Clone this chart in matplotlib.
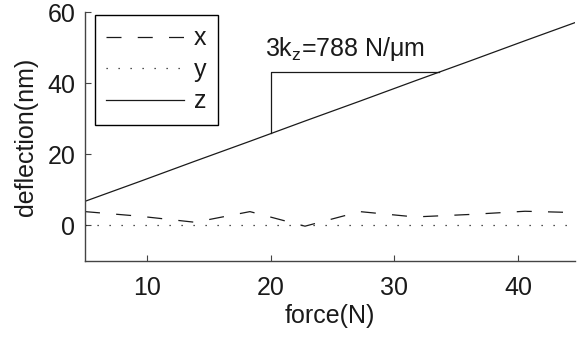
import matplotlib
matplotlib.use("Agg")
import matplotlib.pyplot as plt

plt.rcParams['font.family'] = ['Liberation Sans', 'DejaVu Sans']
plt.rcParams['mathtext.fontset'] = 'custom'
plt.rcParams['mathtext.rm'] = 'Liberation Sans'
plt.rcParams['mathtext.it'] = 'Liberation Sans:italic'

# data
force = [5.0, 9.44, 13.89, 18.33, 22.78, 27.22, 31.67, 36.11, 40.56, 45.0]
dx = [3.9, 2.6, 0.9, 3.9, -0.2, 3.9, 2.4, 3.1, 4.0, 3.6]
dy = [0, 0, 0, 0, 0, 0, 0, 0, 0, 0]
dz = [6.8, 12.4, 18.1, 23.7, 29.4, 35.0, 40.7, 46.3, 52.0, 57.6]

# slope triangle
tri_x = [20, 20, 33.6]
tri_y = [25.9, 43.1, 43.1]
note = '3k$_\\mathrm{z}$=788 N/μm'

ink = '#1a1a1a'
axcol = '#444444'

fig = plt.figure(figsize=(5.77, 3.39), dpi=100)
ax = fig.add_axes([85/577, 1-261/339, (575-85)/577, (261-12.3)/339])

ax.plot(force, dx, color=ink, lw=0.9, dashes=(12, 13), label='x')
ax.plot(force, dy, color=ink, lw=0.9, dashes=(1, 8.6), label='y')
ax.plot(force, dz, color=ink, lw=0.9, label='z')

ax.plot(tri_x, tri_y, color=ink, lw=0.9)
ax.text(19.56, 47.6, note, fontsize=18, color=ink, ha='left', va='baseline')

ax.set_xlim(5, 44.6)
ax.set_ylim(-10, 60)
ax.set_xticks([10, 20, 30, 40])
ax.set_yticks([0, 20, 40, 60])

for s in ['top', 'right']:
    ax.spines[s].set_visible(False)
for s in ['left', 'bottom']:
    ax.spines[s].set_color(axcol)
    ax.spines[s].set_linewidth(1.0)
ax.tick_params(direction='in', length=4, width=0.8, color=axcol,
               labelsize=18, labelcolor=ink)
ax.tick_params(axis='x', pad=11)
ax.tick_params(axis='y', pad=7)

ax.set_xlabel('force(N)', fontsize=18, color=ink, labelpad=3)
ax.set_ylabel('deflection(nm)', fontsize=18, color=ink, labelpad=7)

leg = ax.legend(loc='upper left', bbox_to_anchor=(95/577, 1-15/339),
                bbox_transform=fig.transFigure, fontsize=18,
                handlelength=3.1, handletextpad=0.4, labelspacing=0.3,
                borderpad=0.45, borderaxespad=0, fancybox=False,
                framealpha=1, edgecolor='black')
leg.get_frame().set_linewidth(1.0)
for t in leg.get_texts():
    t.set_color(ink)

fig.savefig('out.png', dpi=100)
